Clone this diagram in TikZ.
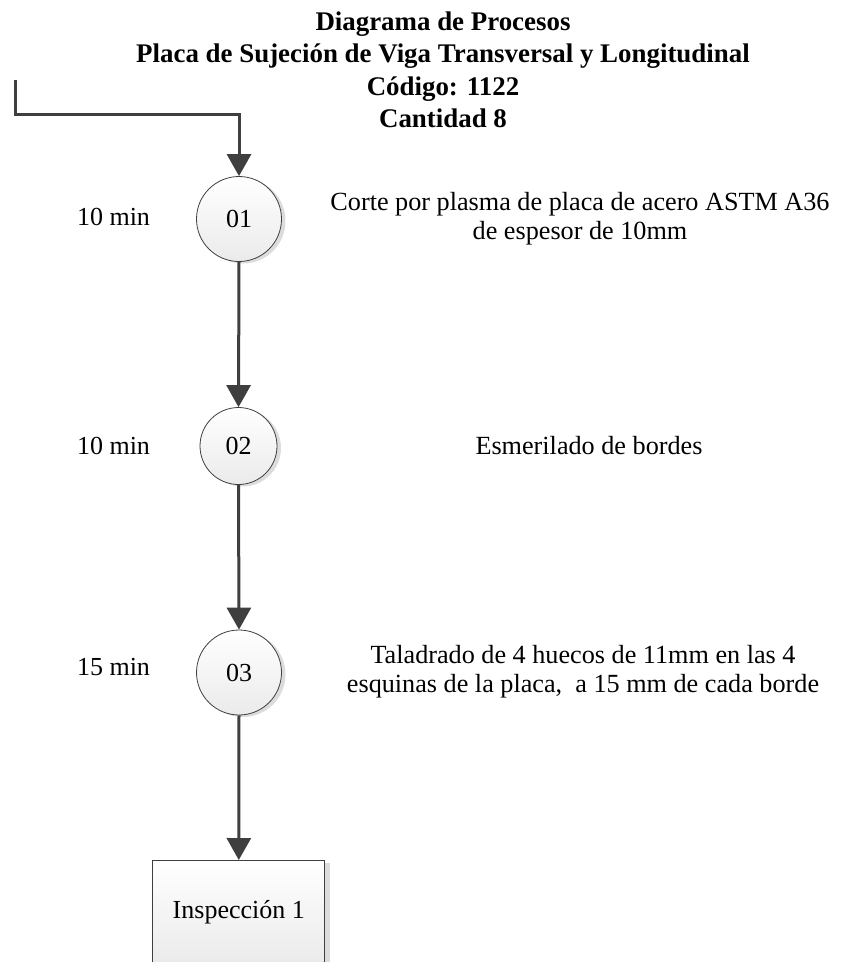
\documentclass[tikz,border=0pt]{standalone}
\usepackage{fontspec}
\setmainfont{Liberation Serif}
\usetikzlibrary{arrows.meta,shadows}
\definecolor{ink}{HTML}{3F3F3F}
\definecolor{shadowgray}{HTML}{DCDCDC}
\begin{document}
\begin{tikzpicture}[x=1pt,y=-1pt,
  flow/.style={draw=ink,line width=3pt,-{Triangle[length=22pt,width=24pt]}},
  opcircle/.style={circle,draw=ink,line width=0.8pt,top color=white,bottom color=black!8,
    drop shadow={shadow xshift=4pt,shadow yshift=-2pt,fill=shadowgray,opacity=1},
    inner sep=0pt,font=\fontsize{26}{30}\selectfont},
  inspbox/.style={rectangle,draw=ink,line width=0.8pt,top color=white,bottom color=black!8,
    drop shadow={shadow xshift=5pt,shadow yshift=-3pt,fill=shadowgray,opacity=1},
    minimum width=172pt,minimum height=104pt,inner sep=0pt,font=\fontsize{26}{30}\selectfont},
  titleline/.style={anchor=base,inner sep=0pt,font=\fontsize{26.9}{32}\selectfont\bfseries},
  timelabel/.style={inner sep=0pt,font=\fontsize{26}{30}\selectfont},
  desc/.style={align=center,inner sep=0pt,font=\fontsize{26.2}{29}\selectfont}
]
\useasboundingbox (0,0) rectangle (845,962);

% heading
\node[titleline] (t1) at (443,30) {Diagrama de Procesos};
\node[titleline] (t2) at (443,62.5) {Placa de Sujeción de Viga Transversal y Longitudinal};
\node[titleline] (t3) at (443,95) {Código: 1122};
\node[titleline] (t4) at (443,127.5) {Cantidad 8};

% operations
\node[opcircle,minimum size=85pt] (c1) at (239,219) {01};
\node[opcircle,minimum size=77pt] (c2) at (238.5,446) {02};
\node[opcircle,minimum size=85pt] (c3) at (239,672.5) {03};
\node[inspbox,anchor=north] (insp) at (238.8,860) {Inspección 1};

% times
\node[timelabel] (m1) at (113.5,217) {10 min};
\node[timelabel] (m2) at (113.5,446) {10 min};
\node[timelabel] (m3) at (113.5,667) {15 min};

% descriptions
\node[desc] (d1) at (580,219) {Corte por plasma de placa de acero ASTM A36\\de espesor de 10mm};
\node[desc] (d2) at (589,446) {Esmerilado de bordes};
\node[desc] (d3) at (583,672) {Taladrado de 4 huecos de 11mm en las 4\\esquinas de la placa,\ \ a 15 mm de cada borde};

% connectors
\coordinate (src) at (15,80);
\coordinate (bend) at (239,114);
\draw[flow] (src) |- (bend) -- (c1.north);
\draw[flow] (c1.south) -- (c2.north);
\draw[flow] (c2.south) -- (c3.north);
\draw[flow] (c3.south) -- (insp.north);
\end{tikzpicture}
\end{document}
